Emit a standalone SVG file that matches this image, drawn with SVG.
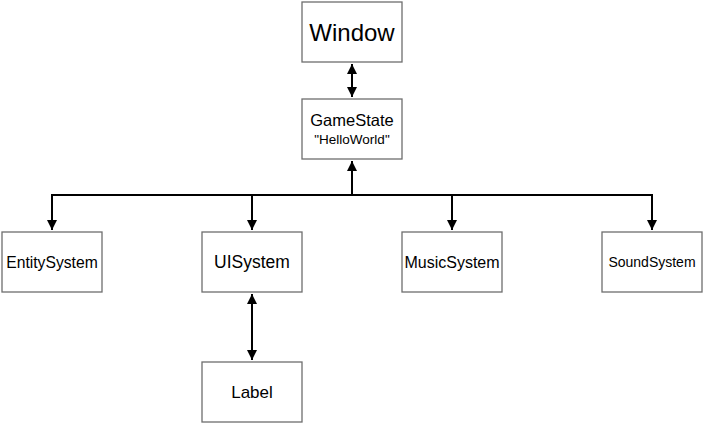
<svg xmlns="http://www.w3.org/2000/svg" width="705" height="425" viewBox="0 0 705 425">
<style>
.box{fill:#fff;stroke:#6e6e6e;stroke-width:1.3}
text{font-family:"Liberation Sans",Arial,sans-serif;fill:#000;text-anchor:middle}
.c{stroke:#000;stroke-width:2;fill:none}
</style>
<defs>
<marker id="ah" viewBox="0 0 10 10" refX="10" refY="5" markerWidth="5" markerHeight="5" orient="auto-start-reverse" markerUnits="strokeWidth">
<path d="M0,0 L10,5 L0,10 z" fill="#000"/>
</marker>
</defs>
<rect width="705" height="425" fill="#fff"/>
<g id="connectors">
<line class="c" x1="352" y1="64" x2="352" y2="97" marker-start="url(#ah)" marker-end="url(#ah)"/>
<line class="c" x1="352" y1="195" x2="352" y2="161" marker-end="url(#ah)"/>
<polyline class="c" points="52,230 52,195 652,195 652,230" marker-end="url(#ah)" style="marker-start:url(#ah)"/>
<line class="c" x1="252" y1="195" x2="252" y2="230" marker-end="url(#ah)"/>
<line class="c" x1="452" y1="195" x2="452" y2="230" marker-end="url(#ah)"/>
<line class="c" x1="252" y1="294" x2="252" y2="360" marker-start="url(#ah)" marker-end="url(#ah)"/>
</g>
<g id="window"><rect class="box" x="302" y="2" width="100" height="60"/><text x="352" y="41" font-size="24">Window</text></g>
<g id="gamestate"><rect class="box" x="302" y="99" width="100" height="60"/><text x="352" y="126" font-size="16.5">GameState</text><text x="352" y="144" font-size="13.5">"HelloWorld"</text></g>
<g id="entitysystem"><rect class="box" x="2" y="232" width="100" height="60"/><text x="52" y="268" font-size="15.7">EntitySystem</text></g>
<g id="uisystem"><rect class="box" x="202" y="232" width="100" height="60"/><text x="252" y="268" font-size="17.5">UISystem</text></g>
<g id="musicsystem"><rect class="box" x="402" y="232" width="100" height="60"/><text x="452" y="268" font-size="16">MusicSystem</text></g>
<g id="soundsystem"><rect class="box" x="602" y="232" width="100" height="60"/><text x="652" y="267" font-size="14">SoundSystem</text></g>
<g id="label"><rect class="box" x="202" y="362" width="100" height="60"/><text x="252" y="398" font-size="17">Label</text></g>
</svg>
